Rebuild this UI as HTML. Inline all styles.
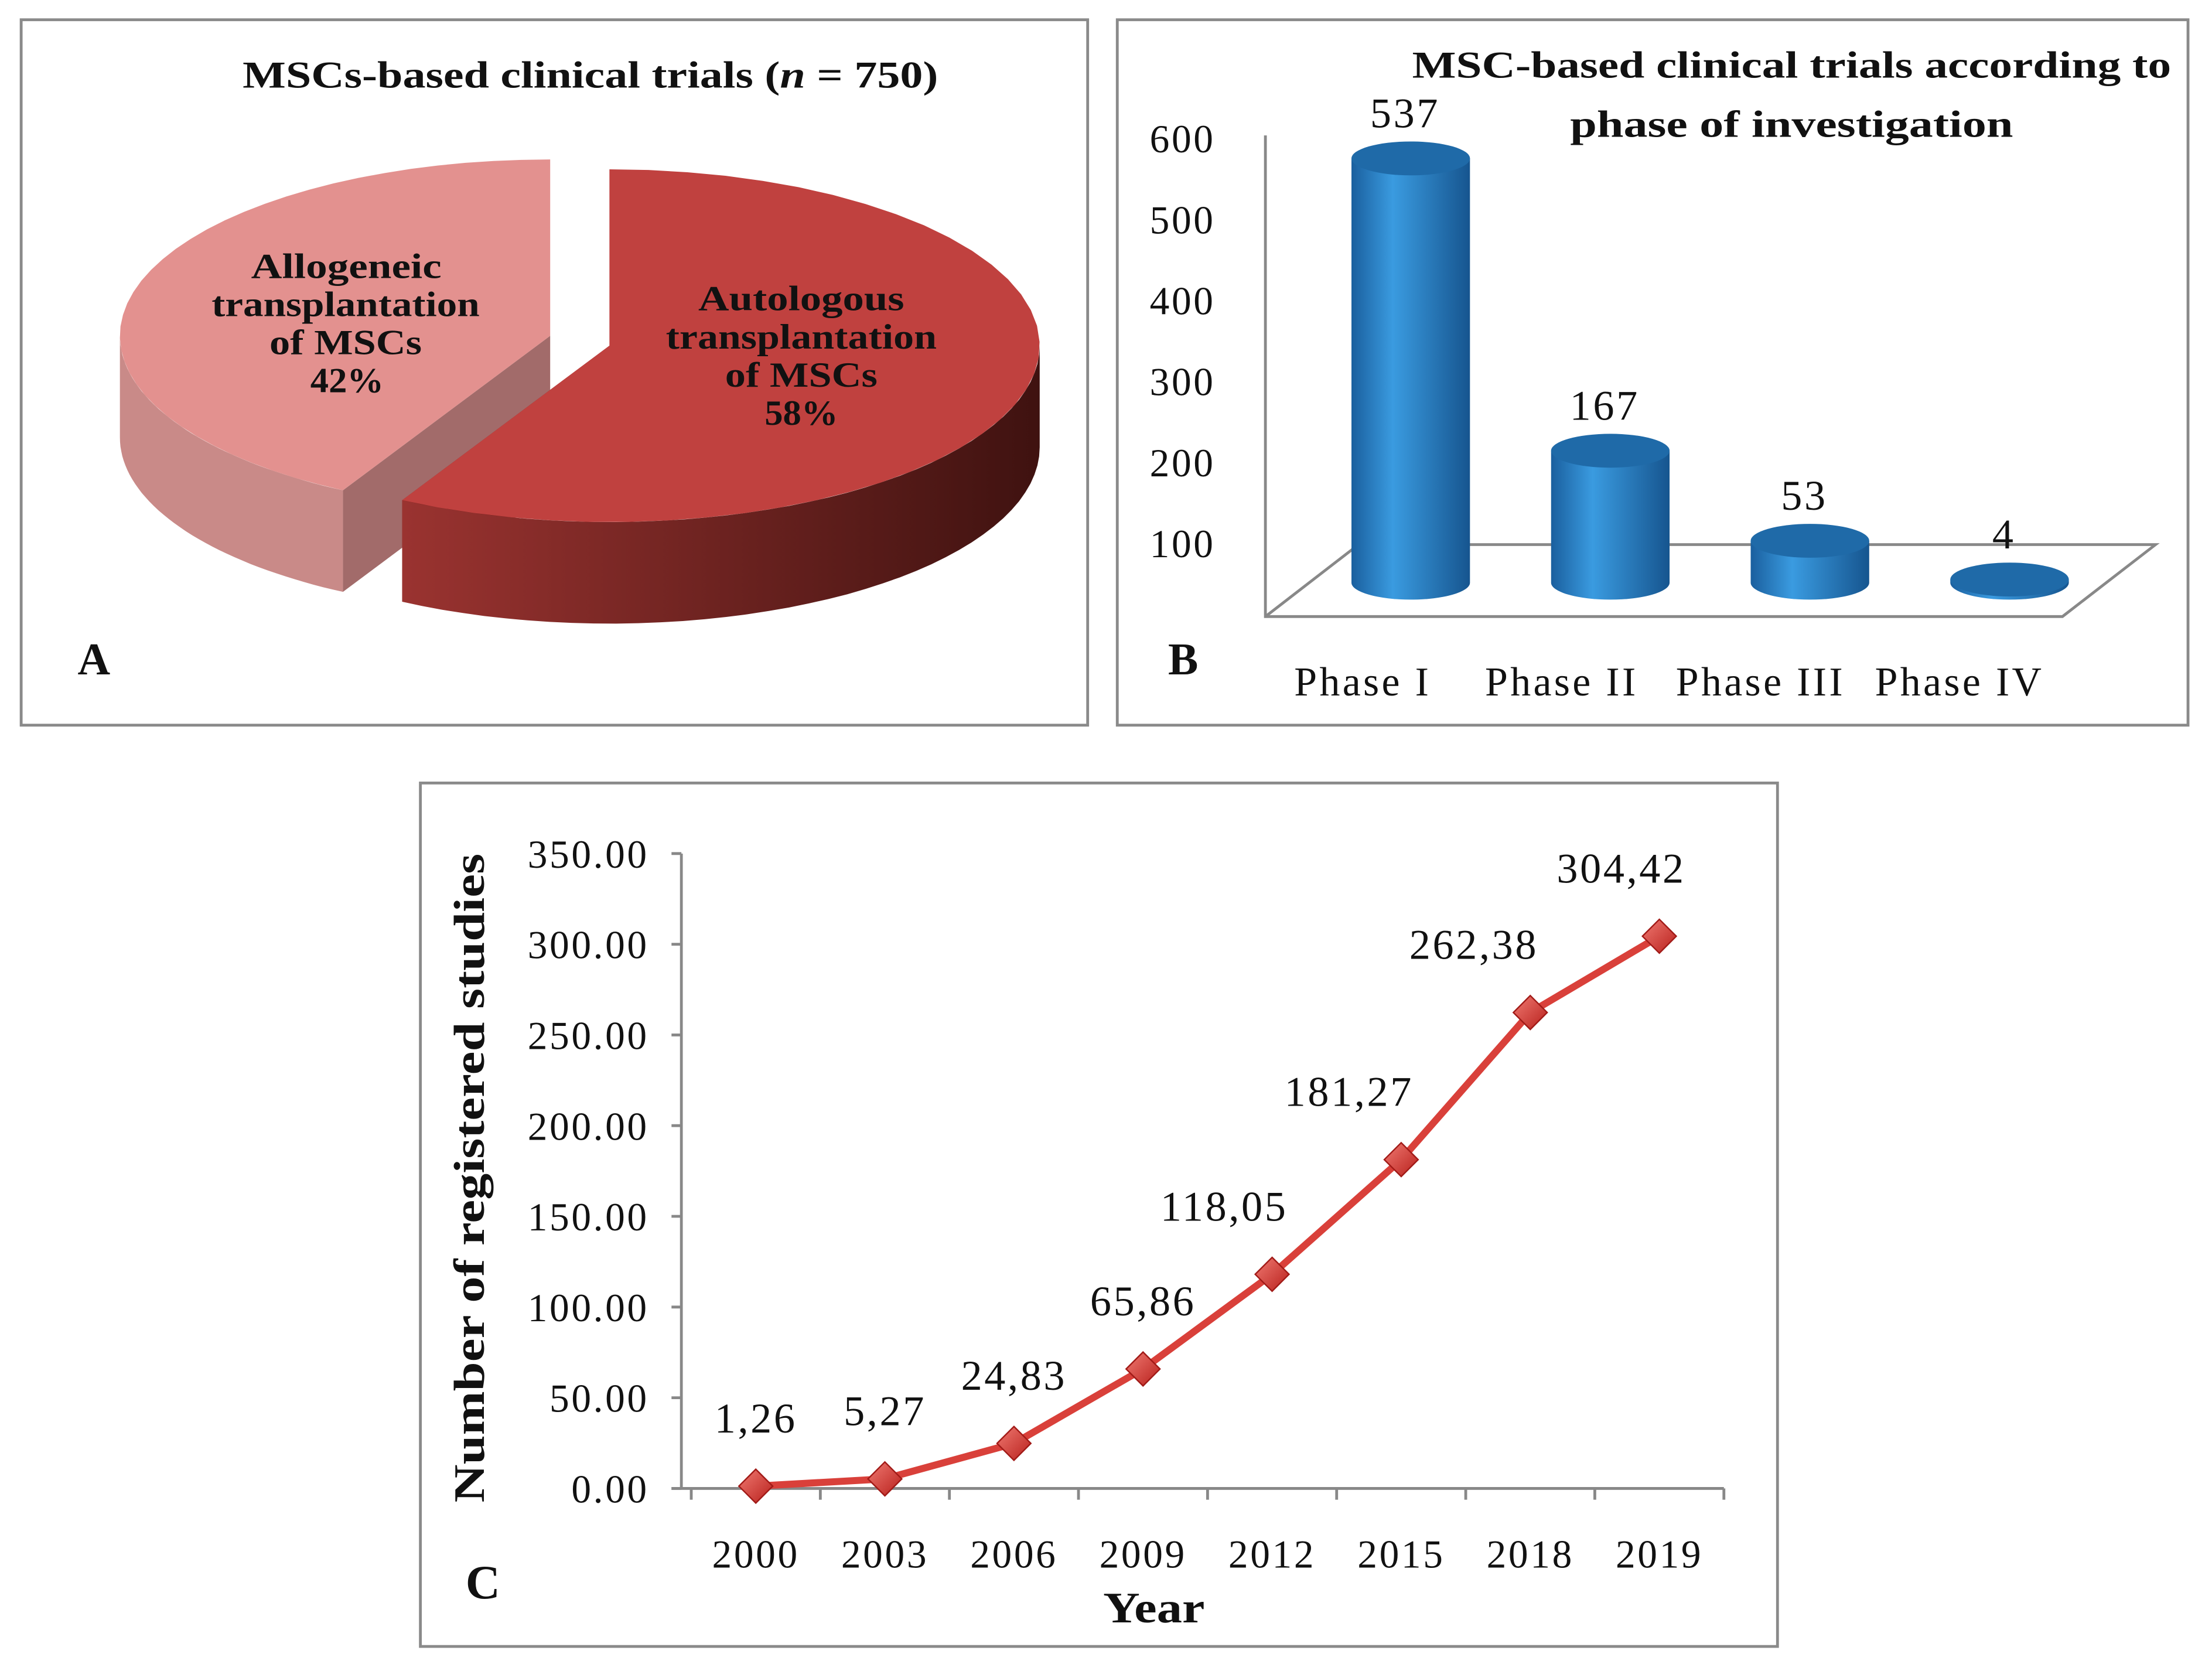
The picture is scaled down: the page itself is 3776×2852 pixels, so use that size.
<!DOCTYPE html>
<html><head><meta charset="utf-8"><style>
html,body{margin:0;padding:0;background:#fff}
svg{display:block}
text{font-family:"Liberation Serif",serif;fill:#111}
</style></head><body>
<svg id="fig" width="3776" height="2852" viewBox="0 0 1568 1184.4" preserveAspectRatio="none" xmlns="http://www.w3.org/2000/svg">
<defs>
<linearGradient id="autoSide" x1="0" x2="1" y1="0" y2="0"><stop offset="0" stop-color="#9a3330"/><stop offset="1" stop-color="#3f1210"/></linearGradient>
<linearGradient id="cyl" x1="0" x2="1" y1="0" y2="0"><stop offset="0" stop-color="#1a5f9e"/><stop offset="0.35" stop-color="#3a9be0"/><stop offset="1" stop-color="#16558f"/></linearGradient>
<linearGradient id="dia" x1="0" x2="1" y1="0" y2="1"><stop offset="0" stop-color="#f07a72"/><stop offset="1" stop-color="#b8201c"/></linearGradient>
</defs>
<!-- Panel A -->
<g>
<rect x="15" y="14" width="756" height="500" fill="#fff" stroke="#8a8a8a" stroke-width="2"/>
<text x="172" y="62" font-size="27" font-weight="bold" textLength="493" lengthAdjust="spacingAndGlyphs">MSCs-based clinical trials (<tspan font-style="italic">n</tspan> = 750)</text>
<g id="pie"></g>
<g font-size="25" font-weight="bold">
<text x="178" y="197" textLength="135" lengthAdjust="spacingAndGlyphs">Allogeneic</text>
<text x="150" y="224" textLength="190" lengthAdjust="spacingAndGlyphs">transplantation</text>
<text x="191" y="251" textLength="108" lengthAdjust="spacingAndGlyphs">of MSCs</text>
<text x="220" y="278" textLength="52" lengthAdjust="spacingAndGlyphs">42%</text>
</g>
<g font-size="25" font-weight="bold">
<text x="495" y="220" textLength="146" lengthAdjust="spacingAndGlyphs">Autologous</text>
<text x="472" y="247" textLength="192" lengthAdjust="spacingAndGlyphs">transplantation</text>
<text x="514" y="274" textLength="108" lengthAdjust="spacingAndGlyphs">of MSCs</text>
<text x="542" y="301" textLength="52" lengthAdjust="spacingAndGlyphs">58%</text>
</g>
<text x="55" y="478" font-size="32" font-weight="bold">A</text>
</g>
<!-- Panel B -->
<g>
<rect x="792" y="14" width="759" height="500" fill="#fff" stroke="#8a8a8a" stroke-width="2"/>
<text x="1001" y="55" font-size="27" font-weight="bold" textLength="538" lengthAdjust="spacingAndGlyphs">MSC-based clinical trials according to</text>
<text x="1113" y="97" font-size="27" font-weight="bold" textLength="314" lengthAdjust="spacingAndGlyphs">phase of investigation</text>
<polyline points="897,96 897,437 1462,437 1528,386 963,386 897,437" fill="none" stroke="#888" stroke-width="2"/>
<g id="bars"></g>
<text x="828" y="478" font-size="32" font-weight="bold">B</text>
</g>
<!-- Panel C -->
<g>
<rect x="298" y="555" width="962" height="612" fill="#fff" stroke="#8a8a8a" stroke-width="2"/>
<g id="line"></g>
<text transform="translate(343,1065) rotate(-90)" font-size="31" font-weight="bold" textLength="460" lengthAdjust="spacingAndGlyphs">Number of registered studies</text>
<text x="782" y="1150" font-size="31" font-weight="bold" textLength="72" lengthAdjust="spacingAndGlyphs">Year</text>
<text x="330" y="1133" font-size="34" font-weight="bold">C</text>
</g>
</svg>
<script>
const NS="http://www.w3.org/2000/svg";
function mk(p,t,a){const e=document.createElementNS(NS,t);for(const k in a)e.setAttribute(k,a[k]);p.appendChild(e);return e;}

// Pie data
const pieLabels=["Autologous","Allogeneic"];
const pieValues=[58,42];
// Bar data
const phaseLabels=["Phase I","Phase II","Phase III","Phase IV"];
const phaseValues=[537,167,53,4];
const barTicks=[100,200,300,400,500,600];
// Line data
const years=["2000","2003","2006","2009","2012","2015","2018","2019"];
const studyValues=[1.26,5.27,24.83,65.86,118.05,181.27,262.38,304.42];
const studyLabels=["1,26","5,27","24,83","65,86","118,05","181,27","262,38","304,42"];
const lineTicks=[0,50,100,150,200,250,300,350];

// ---- Pie ----
(function(){
const g=document.getElementById('pie');
const rx=305,ry=125,d=72;
const tot=pieValues.reduce((a,b)=>a+b,0);
const split=pieValues[0]/tot*2*Math.PI;
const P=(c,t,dy)=>[c[0]+rx*Math.sin(t),c[1]-ry*Math.cos(t)+(dy||0)];
const arc=(c,a0,a1,dy)=>{let s="";const n=40;for(let i=0;i<=n;i++){const p=P(c,a0+(a1-a0)*i/n,dy);s+=(i?"L":"M")+p[0].toFixed(1)+","+p[1].toFixed(1);}return s;};
const arcL=(c,a0,a1,dy)=>arc(c,a0,a1,dy).replace(/^M/,"L");
const C1=[432,245],C2=[390,238];
let p0=P(C2,0);
let e=mk(g,'path',{d:`M${C2[0]},${C2[1]}L${p0[0]},${p0[1]}L${p0[0]},${p0[1]+d}L${C2[0]},${C2[1]+d}Z`,fill:'#d08684'});

let ps=P(C2,split);
e=mk(g,'path',{d:`M${C2[0]},${C2[1]}L${ps[0]},${ps[1]}L${ps[0]},${ps[1]+d}L${C2[0]},${C2[1]+d}Z`,fill:'#a26b6a'});

e=mk(g,'path',{d:arc(C2,split,1.5*Math.PI)+arcL(C2,1.5*Math.PI,split,d)+"Z",fill:'#c98a88'});

e=mk(g,'path',{d:`M${C2[0]},${C2[1]}`+arcL(C2,split,2*Math.PI)+"Z",fill:'#e3918f'});

let pe=P(C1,split);
e=mk(g,'path',{d:`M${C1[0]},${C1[1]}L${pe[0]},${pe[1]}L${pe[0]},${pe[1]+d}L${C1[0]},${C1[1]+d}Z`,fill:'#7a2220'});

e=mk(g,'path',{d:arc(C1,Math.PI/2,split)+arcL(C1,split,Math.PI/2,d)+"Z",fill:'url(#autoSide)'});

e=mk(g,'path',{d:`M${C1[0]},${C1[1]}`+arcL(C1,0,split)+"Z",fill:'#c0413f'});

})();

// ---- Bars ----
(function(){
const g=document.getElementById('bars');
const base=413,k=0.56;
const tickY=v=>385-(v-100)*0.574;
barTicks.forEach(v=>{const t=mk(g,'text',{x:815,y:tickY(v)+10,'font-size':28,'letter-spacing':1.5});t.textContent=v;
});
const xs=i=>1000+i*141.5;
phaseValues.forEach((v,i)=>{
 const cx=xs(i),rx=42,ry=12,top=base-v*k;
 const b=mk(g,'g',{});
 
 
 mk(b,'path',{d:`M${cx-rx},${top}L${cx-rx},${base}A${rx},${ry} 0 0 0 ${cx+rx},${base}L${cx+rx},${top}Z`,fill:'url(#cyl)'});
 mk(b,'ellipse',{cx:cx,cy:top,rx:rx,ry:ry,fill:'#1f6aa8'});
 const t=mk(g,'text',{x:cx-4,y:top-22,'text-anchor':'middle','font-size':30,'letter-spacing':1.5});t.textContent=v;
 
 const c=mk(g,'text',{x:966+i*141,y:493,'text-anchor':'middle','font-size':29,'letter-spacing':1.8});c.textContent=phaseLabels[i];
 
});
})();

// ---- Line ----
(function(){
const g=document.getElementById('line');
const y0=1055,kpx=450/350,x0=490,step=91.5;
const Y=v=>y0-v*kpx, X=i=>x0+step*(i+0.5);
let e=mk(g,'line',{x1:483,y1:605,x2:483,y2:y0,stroke:'#888','stroke-width':2});

e=mk(g,'line',{x1:476,y1:y0,x2:x0+step*years.length,y2:y0,stroke:'#888','stroke-width':2});

lineTicks.forEach(v=>{mk(g,'line',{x1:476,y1:Y(v),x2:483,y2:Y(v),stroke:'#888','stroke-width':2});
 const t=mk(g,'text',{x:460,y:Y(v)+10,'text-anchor':'end','font-size':28,'letter-spacing':1.5});t.textContent=v.toFixed(2);
 });
for(let i=0;i<=years.length;i++)mk(g,'line',{x1:x0+step*i,y1:y0,x2:x0+step*i,y2:y0+8,stroke:'#888','stroke-width':2});
years.forEach((yr,i)=>{const t=mk(g,'text',{x:X(i),y:1111,'text-anchor':'middle','font-size':28,'letter-spacing':1.5});t.textContent=yr;
 });
e=mk(g,'polyline',{points:studyValues.map((v,i)=>X(i)+','+Y(v)).join(' '),fill:'none',stroke:'#d9403a','stroke-width':5,'stroke-linejoin':'round'});

studyValues.forEach((v,i)=>{const x=X(i),y=Y(v),s=12;
 const m=mk(g,'path',{d:`M${x},${y-s}L${x+s},${y}L${x},${y+s}L${x-s},${y}Z`,fill:'url(#dia)',stroke:'#a11a17','stroke-width':1});
 
 const dx=i<4?0:(i===7?-27:-22-i*3);
 const t=mk(g,'text',{x:x+dx,y:y-38,'text-anchor':'middle','font-size':30,'letter-spacing':1.5});t.textContent=studyLabels[i];
 });
})();
</script>
</body></html>
